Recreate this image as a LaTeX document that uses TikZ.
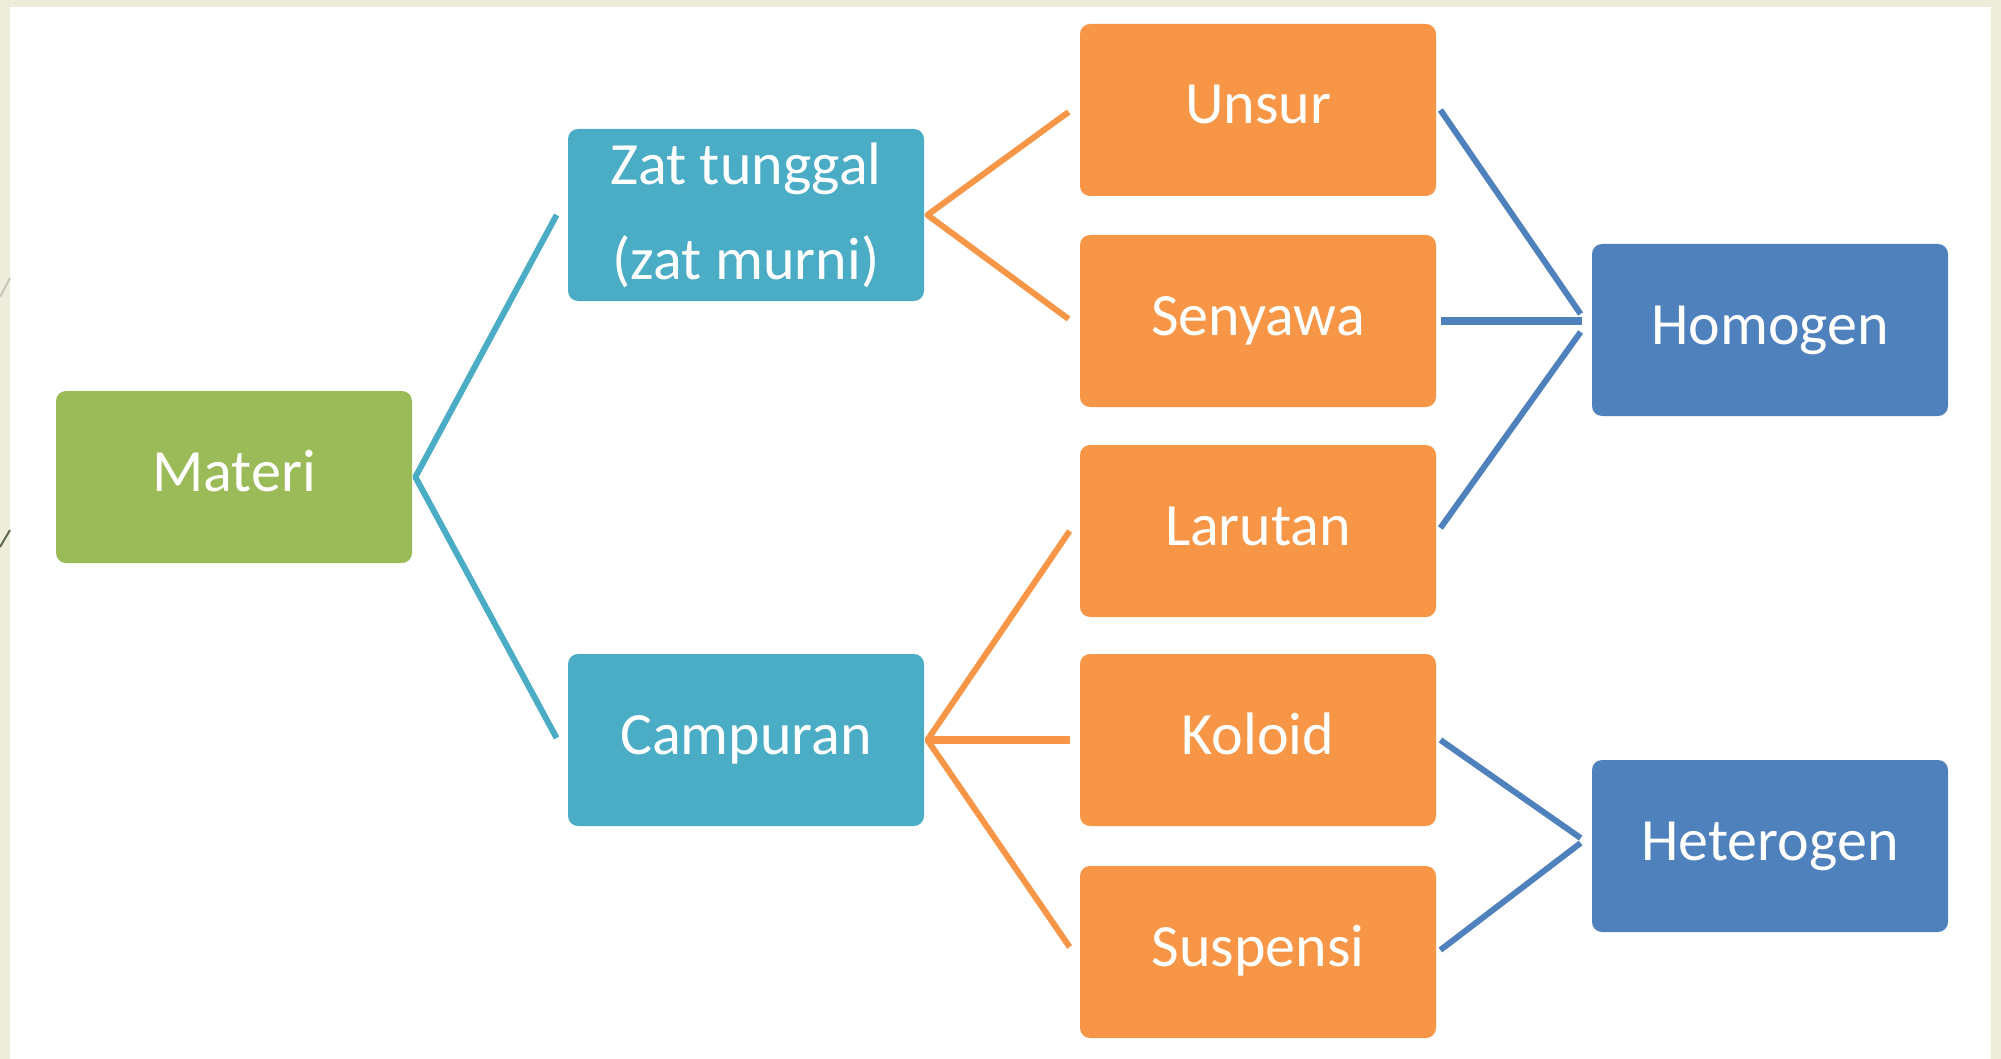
\documentclass[tikz,border=0pt]{standalone}
\usepackage{fontspec}
\setmainfont{Carlito}
\usetikzlibrary{calc}
\definecolor{cbeige}{HTML}{EEEDDB}
\definecolor{cgreen}{HTML}{9BBB59}
\definecolor{cteal}{HTML}{4BACC6}
\definecolor{corange}{HTML}{F79646}
\definecolor{cblue}{HTML}{4F81BD}
\definecolor{decolight}{HTML}{C9C9B9}
\definecolor{decodark}{HTML}{5E6B4E}
\begin{document}
\begin{tikzpicture}[x=0.5pt,y=-0.5pt,
  box/.style={rounded corners=5pt, minimum width=178pt, minimum height=86pt,
    inner sep=0pt, text=white, font=\fontsize{30pt}{47.5pt}\selectfont},
  oneline/.style={box, text height=20pt, text depth=6pt},
  conn/.style={line width=3pt, line join=round},
  hconn/.style={line width=4pt}]
\useasboundingbox (0,0) rectangle (2001,1059);
\fill[cbeige] (0,0) rectangle (2001,1059);
\fill[white] (10,7) rectangle (1991,1059);
\draw[decolight, line width=1pt] (0,297) -- (10,278);
\draw[decodark, line width=1pt] (0,547) -- (10,530);

\node[oneline, fill=cgreen] (Materi) at (234,477) {Materi};
\node[box, fill=cteal, align=center] (Zat) at (746,215) {Zat tunggal\\(zat murni)};
\node[oneline, fill=cteal] (Camp) at (746,740) {Campuran};
\node[oneline, fill=corange] (Unsur) at (1258,110) {Unsur};
\node[oneline, fill=corange] (Senyawa) at (1258,321) {Senyawa};
\node[oneline, fill=corange] (Larutan) at (1258,531) {Larutan};
\node[oneline, fill=corange] (Koloid) at (1258,740) {Koloid};
\node[oneline, fill=corange] (Suspensi) at (1258,952) {Suspensi};
\node[oneline, fill=cblue] (Homogen) at (1770,330) {Homogen};
\node[oneline, fill=cblue] (Heterogen) at (1770,846) {Heterogen};

% Materi -> level 2
\coordinate (mA) at ($(Materi.east)+(3,0)$);
\draw[cteal, conn] ($(Zat.west)+(-11,0)$) -- (mA) -- ($(Camp.west)+(-11,-2)$);
% Zat tunggal -> Unsur, Senyawa
\coordinate (zA) at ($(Zat.east)+(3,0)$);
\draw[corange, conn] ($(Unsur.west)+(-11,2)$) -- (zA) -- ($(Senyawa.west)+(-11,-2)$);
% Campuran -> Larutan, Koloid, Suspensi
\coordinate (cA) at ($(Camp.east)+(3,0)$);
\draw[corange, conn] ($(Larutan.west)+(-10,0)$) -- (cA) -- ($(Suspensi.west)+(-10,-5)$);
\draw[corange, hconn] (cA) -- ($(Koloid.west)+(-10,0)$);
% -> Homogen
\draw[cblue, conn] ($(Unsur.east)+(4,0)$) -- ($(Homogen.west)+(-11,-16)$);
\draw[cblue, hconn] ($(Senyawa.east)+(5,0)$) -- ($(Homogen.west|-Senyawa.east)+(-10,0)$);
\draw[cblue, conn] ($(Larutan.east)+(4,-3)$) -- ($(Homogen.west)+(-11,2)$);
% -> Heterogen
\draw[cblue, conn] ($(Koloid.east)+(4,0)$) -- ($(Heterogen.west)+(-11,-8)$);
\draw[cblue, conn] ($(Suspensi.east)+(4,-2)$) -- ($(Heterogen.west)+(-11,-3)$);
\end{tikzpicture}
\end{document}
